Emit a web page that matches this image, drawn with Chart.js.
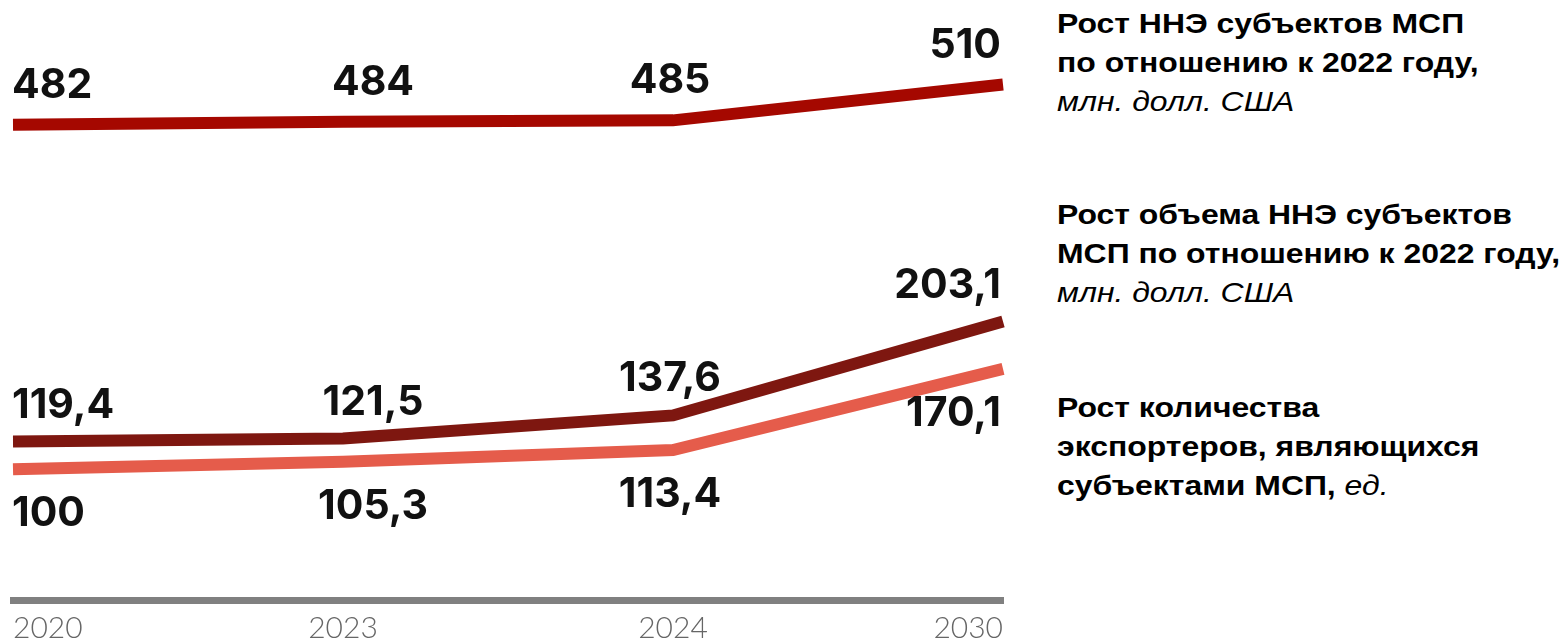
<!DOCTYPE html>
<html lang="ru">
<head>
<meta charset="utf-8">
<script src="https://cdn.jsdelivr.net/npm/chart.js@4"></script>
<style>
  html, body { margin: 0; padding: 0; background: #fff; overflow: hidden; width: 1566px; height: 640px; }
  #wrap { position: absolute; left: 0; top: 0; width: 1040px; height: 656px; }
  .legend { position: absolute; left: 1057px; font-family: "Liberation Sans", Arial, sans-serif; font-size: 28.5px; line-height: 39px; color: #000; white-space: nowrap; transform: scaleX(1.12); transform-origin: 0 0; }
  .legend b { font-weight: 700; }
  .legend i { font-style: italic; font-weight: 400; }
</style>
</head>
<body>
<div id="wrap"><canvas id="myChart" width="1040" height="656"></canvas></div>

<div class="legend" style="top:4px"><b>Рост ННЭ субъектов МСП<br>по отношению к 2022 году,</b><br><i>млн. долл. США</i></div>
<div class="legend" style="top:195px"><b>Рост объема ННЭ субъектов<br>МСП по отношению к 2022 году,</b><br><i>млн. долл. США</i></div>
<div class="legend" style="top:388px"><b>Рост количества<br>экспортеров, являющихся<br>субъектами МСП,</b> <i>ед.</i></div>

<script>
// годы
const years = ['2020', '2023', '2024', '2030'];
// Рост ННЭ субъектов МСП
const nneGrowth = [482, 484, 485, 510];
// Рост объема ННЭ субъектов МСП
const nneVolume = [119.4, 121.5, 137.6, 203.1];
// Рост количества экспортеров
const exporters = [100, 105.3, 113.4, 170.1];

// сдвиг подписей средних точек
const labelShift = [0, 30, -3, 0];

function fmt(v) {
  return String(v).replace('.', ',');
}

const valueLabels = {
  id: 'valueLabels',
  afterDatasetsDraw(chart) {
    const ctx = chart.ctx;
    ctx.save();
    ctx.font = '700 41px Inter, "Noto Sans", sans-serif';
    ctx.fillStyle = '#111';
    ctx.textBaseline = 'alphabetic';
    chart.data.datasets.forEach((ds, di) => {
      const meta = chart.getDatasetMeta(di);
      const last = meta.data.length - 1;
      meta.data.forEach((pt, i) => {
        let x = pt.x;
        let align = 'center';
        if (i === 0) { align = 'left'; x -= 1; }
        else if (i === last) { align = 'right'; x -= 2; }
        else { x += labelShift[i]; }
        ctx.textAlign = align;
        ctx.fillText(fmt(ds.data[i]), x, pt.y + ds.labelOffset);
      });
    });
    ctx.restore();
  }
};

let ctx = document.getElementById('myChart').getContext('2d');

let chart = new Chart(ctx, {
  type: 'line',
  data: {
    labels: years,
    datasets: [
      {
        label: 'Рост ННЭ субъектов МСП',
        data: nneGrowth,
        yAxisID: 'y2',
        borderColor: '#A50800',
        borderWidth: 12,
        labelOffset: -27,
      },
      {
        label: 'Рост объема ННЭ субъектов МСП',
        data: nneVolume,
        yAxisID: 'y',
        borderColor: '#7E1710',
        borderWidth: 12,
        labelOffset: -24,
      },
      {
        label: 'Рост количества экспортеров',
        data: exporters,
        yAxisID: 'y',
        borderColor: '#E55C4B',
        borderWidth: 12,
        labelOffset: 57,
      },
    ],
  },
  options: {
    responsive: false,
    animation: false,
    elements: {
      line: { tension: 0, borderCapStyle: 'butt', fill: false },
      point: { radius: 0, hoverRadius: 0 },
    },
    layout: { padding: { left: 13, right: 37, top: 0, bottom: 0 } },
    plugins: {
      legend: { display: false },
      tooltip: { enabled: false },
    },
    scales: {
      x: {
        type: 'category',
        offset: false,
        grid: { display: false, drawTicks: false },
        border: { display: true, color: '#808080', width: 7 },
        ticks: {
          align: 'inner',
          padding: 10,
          color: '#666',
          maxRotation: 0,
          autoSkip: false,
          font: { family: 'Lato', size: 30, weight: '300' },
        },
      },
      y: { display: false, min: 8.8, max: 427.5 },
      y2: { display: false, min: 150.3, max: 569 },
    },
  },
  plugins: [valueLabels],
});
</script>
</body>
</html>
